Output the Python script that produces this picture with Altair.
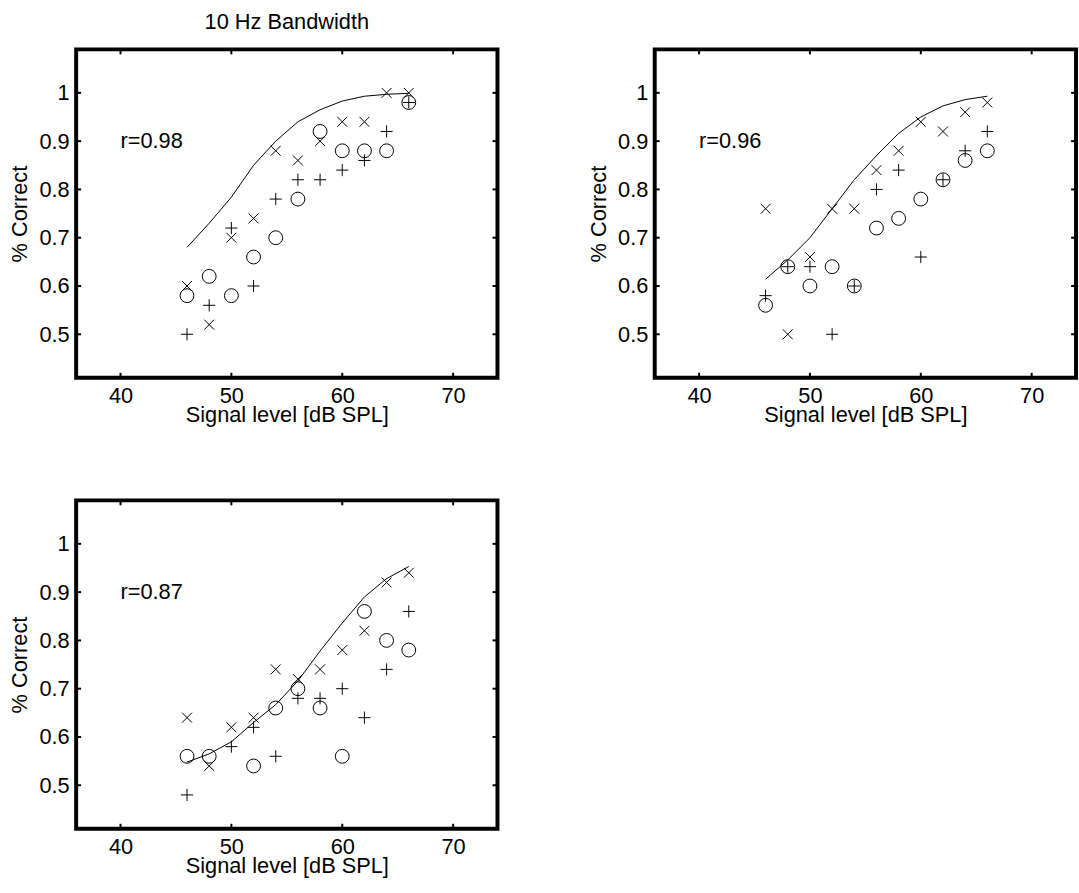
import altair as alt
import pandas as pd

# ---- data ----
levels = [46, 48, 50, 52, 54, 56, 58, 60, 62, 64, 66]

p1_circle = [0.58, 0.62, 0.58, 0.66, 0.70, 0.78, 0.92, 0.88, 0.88, 0.88, 0.98]
p1_plus = [0.50, 0.56, 0.72, 0.60, 0.78, 0.82, 0.82, 0.84, 0.86, 0.92, 0.98]
p1_cross = [0.60, 0.52, 0.70, 0.74, 0.88, 0.86, 0.90, 0.94, 0.94, 1.00, 1.00]
p1_fit = [0.68, 0.73, 0.784, 0.85, 0.90, 0.94, 0.965, 0.983, 0.993, 0.997, 0.999]

p2_circle = [0.56, 0.64, 0.60, 0.64, 0.60, 0.72, 0.74, 0.78, 0.82, 0.86, 0.88]
p2_plus = [0.58, 0.64, 0.64, 0.50, 0.60, 0.80, 0.84, 0.66, 0.82, 0.88, 0.92]
p2_cross = [0.76, 0.50, 0.66, 0.76, 0.76, 0.84, 0.88, 0.94, 0.92, 0.96, 0.98]
p2_fit = [0.614, 0.654, 0.70, 0.76, 0.82, 0.87, 0.916, 0.95, 0.973, 0.986, 0.993]

p3_circle = [0.56, 0.56, None, 0.54, 0.66, 0.70, 0.66, 0.56, 0.86, 0.80, 0.78]
p3_plus = [0.48, None, 0.58, 0.62, 0.56, 0.68, 0.68, 0.70, 0.64, 0.74, 0.86]
p3_cross = [0.64, 0.54, 0.62, 0.64, 0.74, 0.72, 0.74, 0.78, 0.82, 0.92, 0.94]
p3_fit = [0.548, 0.565, 0.59, 0.63, 0.667, 0.716, 0.778, 0.836, 0.89, 0.928, 0.953]

r_labels = ["r=0.98", "r=0.96", "r=0.87"]
r_pos = (40, 0.9)

x_ticks = [40, 50, 60, 70]
y_ticks = [0.5, 0.6, 0.7, 0.8, 0.9, 1.0]

panel_title = "10 Hz Bandwidth"
x_title = "Signal level [dB SPL]"
y_title = "% Correct"

# ---- style ----
FONT = "Liberation Sans"
FS = 22
W, H = 426, 332
XDOM = [36, 74]
YDOM = [0.41, 1.09]
PLUS = "M-1,0L1,0M0,-1L0,1"
CROSS = "M-1,-1L1,1M-1,1L1,-1"

xscale = alt.Scale(domain=XDOM, nice=False, zero=False)
yscale = alt.Scale(domain=YDOM, nice=False, zero=False)
xaxis = alt.Axis(values=x_ticks, title=x_title, grid=False, ticks=False, domain=False,
                 labelPadding=8, labelFontSize=FS, titleFontSize=FS, titleFontWeight="normal",
                 labelFont=FONT, titleFont=FONT, labelColor="black", titleColor="black",
                 titleY=37, titleBaseline="middle")
yaxis = alt.Axis(values=y_ticks, title=y_title, grid=False, ticks=False, domain=False, format="~g",
                 labelPadding=7, labelFontSize=FS, titleFontSize=FS, titleFontWeight="normal",
                 labelFont=FONT, titleFont=FONT, labelColor="black", titleColor="black",
                 titleX=-57, titleY=H / 2, titleBaseline="middle", titleAngle=270)


def X(field):
    return alt.X(field, type="quantitative", scale=xscale, axis=xaxis)


def Y(field):
    return alt.Y(field, type="quantitative", scale=yscale, axis=yaxis)


def series_df(vals):
    return pd.DataFrame({"level": levels, "value": vals}).dropna()


def panel(circ, plus, cross, fit, rlab, title=None):
    pc = alt.Chart(series_df(circ)).mark_point(shape="circle", size=196, filled=False, color="black",
                                                strokeWidth=1, opacity=1).encode(x=X("level"), y=Y("value"))
    pp = alt.Chart(series_df(plus)).mark_point(shape=PLUS, size=150, filled=False, color="black",
                                                strokeWidth=1, opacity=1).encode(x=X("level"), y=Y("value"))
    px = alt.Chart(series_df(cross)).mark_point(shape=CROSS, size=100, filled=False, color="black",
                                                 strokeWidth=1, opacity=1).encode(x=X("level"), y=Y("value"))
    ln = alt.Chart(series_df(fit)).mark_line(color="black", strokeWidth=1).encode(x=X("level"), y=Y("value"))
    tx = alt.Chart(pd.DataFrame({"level": [r_pos[0]], "value": [r_pos[1]], "lab": [rlab]})).mark_text(
        align="left", baseline="middle", font=FONT, fontSize=FS, color="black"
    ).encode(x=X("level"), y=Y("value"), text="lab:N")
    xt_df = pd.DataFrame({"level": x_ticks})
    yt_df = pd.DataFrame({"value": y_ticks})
    xb = alt.Chart(xt_df).mark_rule(color="black", strokeWidth=2).encode(
        x=X("level"), y=alt.value(H), y2=alt.value(H - 5))
    xtop = alt.Chart(xt_df).mark_rule(color="black", strokeWidth=2).encode(
        x=X("level"), y=alt.value(0), y2=alt.value(5))
    yl = alt.Chart(yt_df).mark_rule(color="black", strokeWidth=2).encode(
        y=Y("value"), x=alt.value(0), x2=alt.value(5))
    yr = alt.Chart(yt_df).mark_rule(color="black", strokeWidth=2).encode(
        y=Y("value"), x=alt.value(W), x2=alt.value(W - 5))
    layer = alt.layer(ln, pc, pp, px, tx, xb, xtop, yl, yr)
    props = dict(width=W, height=H)
    if title:
        props["title"] = alt.TitleParams(title, fontSize=FS, fontWeight="normal", font=FONT, color="black",
                                         anchor="middle", baseline="alphabetic", offset=-2)
    return layer.properties(**props)


c1 = panel(p1_circle, p1_plus, p1_cross, p1_fit, r_labels[0], panel_title)
c2 = panel(p2_circle, p2_plus, p2_cross, p2_fit, r_labels[1])
c3 = panel(p3_circle, p3_plus, p3_cross, p3_fit, r_labels[2])

chart = alt.concat(c1, c2, c3, columns=2, spacing={"row": 124, "column": 159}, bounds="flush").properties(
    padding={"left": 7, "top": 4, "right": 0, "bottom": 5},
    background="white",
).configure_view(stroke="black", strokeWidth=4)

chart.save("out.html", embed_options={"renderer": "svg", "actions": False})
